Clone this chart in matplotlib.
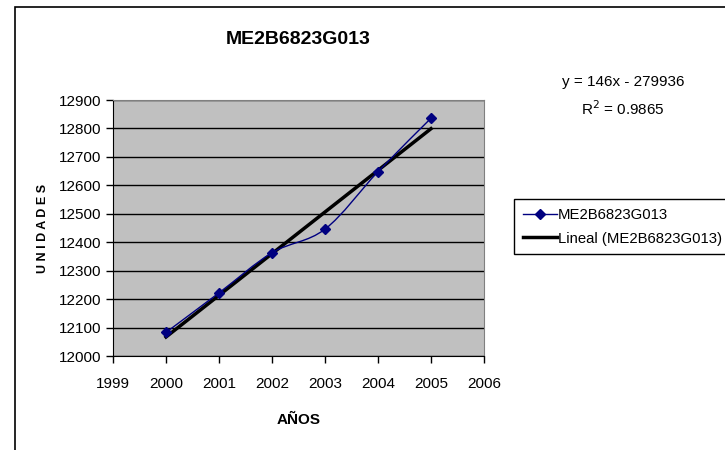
import numpy as np
import matplotlib
matplotlib.use("Agg")
import matplotlib.pyplot as plt
from matplotlib.path import Path
from matplotlib.patches import PathPatch, Rectangle
from matplotlib.lines import Line2D

plt.rcParams['font.family'] = ['Liberation Sans', 'DejaVu Sans']

# data
years = [2000, 2001, 2002, 2003, 2004, 2005]
unidades = [12083, 12222, 12363, 12446, 12648, 12836]
serie = "ME2B6823G013"
eq_text = "y = 146x - 279936"
r2_text = "R$^2$ = 0.9865"

x = np.array(years, dtype=float)
y = np.array(unidades, dtype=float)

fig = plt.figure(figsize=(7.25, 4.5), dpi=100)
ax = fig.add_axes([113/725, 1 - 356/450, 371/725, 256/450])
ax.set_facecolor('#c0c0c0')

# smoothed line (bezier through the points, like excel)
verts = [(x[0], y[0])]
codes = [Path.MOVETO]
n = len(x)
for i in range(n - 1):
    p0 = (x[i-1], y[i-1]) if i > 0 else (x[i], y[i])
    p3 = (x[i+2], y[i+2]) if i + 2 < n else (x[i+1], y[i+1])
    c1 = (x[i] + (x[i+1] - p0[0]) / 6, y[i] + (y[i+1] - p0[1]) / 6)
    c2 = (x[i+1] - (p3[0] - x[i]) / 6, y[i+1] - (p3[1] - y[i]) / 6)
    verts += [c1, c2, (x[i+1], y[i+1])]
    codes += [Path.CURVE4] * 3
ax.add_patch(PathPatch(Path(verts, codes), fill=False, edgecolor='#000080', lw=1, zorder=3))
ax.plot(x, y, ls='none', marker='D', ms=5, color='#000080', zorder=4)

# linear trend
k, b = np.polyfit(x, y, 1)
ax.plot(x, k * x + b, color='black', lw=2.5, zorder=2)

ax.set_xlim(1999, 2006)
ax.set_ylim(12000, 12900)
ax.set_xticks(range(1999, 2007))
ax.set_yticks(range(12000, 12901, 100))
ax.yaxis.grid(True, color='black', lw=1)
ax.set_axisbelow(True)
ax.tick_params(direction='out', length=5, width=1, labelsize=11, color='black')
ax.tick_params(axis='x', pad=10)
for s in ['top', 'right']:
    ax.spines[s].set_color('#808080')
for s in ['left', 'bottom']:
    ax.spines[s].set_color('black')

ax.set_xlabel("AÑOS", fontsize=11, fontweight='bold', labelpad=16)
ax.set_ylabel("U N I D A D E S", fontsize=9, fontweight='bold', labelpad=7)
ax.set_title(serie, fontsize=14, fontweight='bold', pad=40)

fig.text(623/725, 1 - 82/450, eq_text, ha='center', va='center', fontsize=11)
fig.text(623/725, 1 - 109/450, r2_text, ha='center', va='center', fontsize=11)

handles = [Line2D([], [], color='#000080', lw=1, marker='D', ms=5),
           Line2D([], [], color='black', lw=2.5)]
leg = fig.legend(handles, [serie, "Lineal (" + serie + ")"], loc='upper left',
                 bbox_to_anchor=(514/725, 1 - 199/450), fontsize=10.7, frameon=True,
                 fancybox=False, edgecolor='black', framealpha=1, handlelength=2.3,
                 handletextpad=0.05, borderpad=0.6, labelspacing=0.65, borderaxespad=0)
leg.get_frame().set_linewidth(1)

fig.patches.append(Rectangle((15/725, -0.1), 1.2, 1 - 7/450 + 0.1, transform=fig.transFigure,
                             fill=False, edgecolor='black', lw=1.2, clip_on=False))

fig.savefig("out.png", dpi=100)
